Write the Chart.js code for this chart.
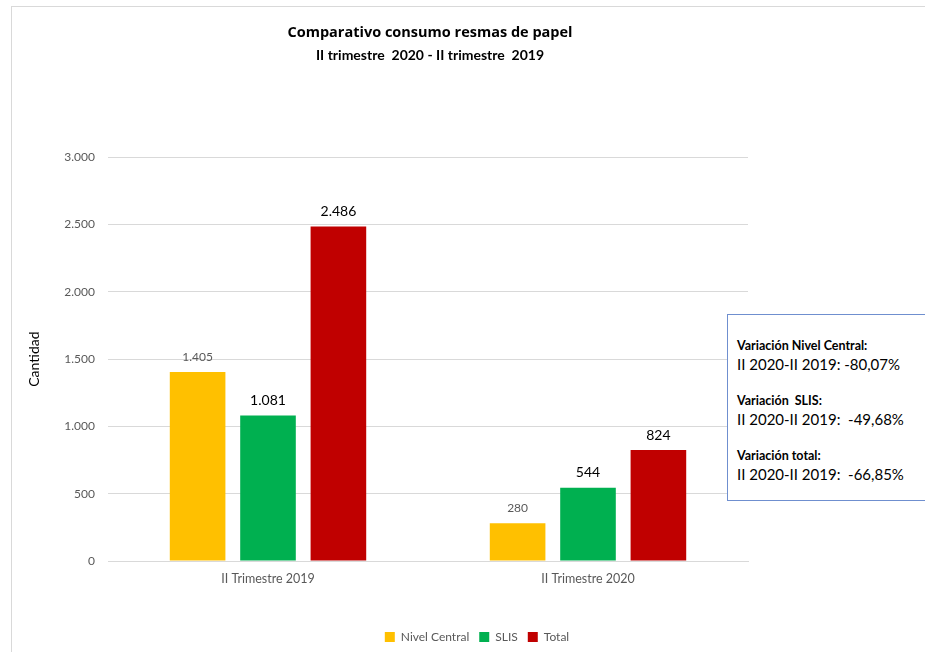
<!DOCTYPE html>
<html>
<head>
<meta charset="utf-8">
<script src="https://cdn.jsdelivr.net/npm/chart.js@4/dist/chart.umd.min.js"></script>
<style>
  html, body { margin: 0; padding: 0; background: #fff; overflow: hidden; }
  #wrap { position: relative; width: 925px; height: 652px; }
  #frame { position: absolute; left: 11px; top: 6px; width: 1000px; height: 1000px; border: 1px solid #d9d9d9; box-sizing: border-box; }
  #chart { position: absolute; left: 0; top: 0; }
  #notes {
    position: absolute; left: 727px; top: 314px; width: 240px; height: 187px;
    border: 1px solid #6f8fcf; background: #fff; box-sizing: border-box;
    font-family: Lato, sans-serif; color: #000; padding: 22px 0 0 9px;
  }
  #notes .h { font-size: 12.5px; font-weight: bold; line-height: 17px; }
  #notes .v { font-size: 15px; line-height: 20px; margin-bottom: 18px; }
</style>
</head>
<body>
<div id="wrap">
  <div id="frame"></div>
  <canvas id="chart" width="925" height="652"></canvas>
  <div id="notes">
    <div class="h">Variación Nivel Central:</div>
    <div class="v">II 2020-II 2019: -80,07%</div>
    <div class="h">Variación &nbsp;SLIS:</div>
    <div class="v">II 2020-II 2019: &nbsp;-49,68%</div>
    <div class="h">Variación total:</div>
    <div class="v">II 2020-II 2019: &nbsp;-66,85%</div>
  </div>
</div>
<script>
const categories = ['II Trimestre 2019', 'II Trimestre 2020'];
const nivelCentral = [1405, 280];
const slis = [1081, 544];
const total = [2486, 824];
const yTicks = [0, 500, 1000, 1500, 2000, 2500, 3000];

const FONT = 'Lato, sans-serif';
const TITLE_FONT = '"Open Sans", sans-serif';

// miles con punto: 1405 -> 1.405
function fmt(v) {
  return String(v).replace(/\B(?=(\d{3})+(?!\d))/g, '.');
}

// etiquetas de valor encima de cada barra
const valueLabels = {
  id: 'valueLabels',
  afterDatasetsDraw(chart) {
    const ctx = chart.ctx;
    ctx.save();
    ctx.textAlign = 'center';
    ctx.textBaseline = 'middle';
    chart.data.datasets.forEach((ds, i) => {
      const meta = chart.getDatasetMeta(i);
      meta.data.forEach((bar, j) => {
        if (i === 0) {
          ctx.font = '12px ' + FONT;
          ctx.fillStyle = '#595959';
        } else {
          ctx.font = '14px ' + FONT;
          ctx.fillStyle = '#000';
        }
        ctx.fillText(fmt(ds.data[j]), bar.x, bar.y - 15);
      });
    });
    ctx.restore();
  }
};

// la leyenda va algo desplazada respecto al título
const legendOffset = {
  id: 'legendOffset',
  afterLayout(chart) {
    const lg = chart.legend;
    lg.left += 47; lg.right += 47;
    lg.top += 3; lg.bottom += 3;
  }
};

const barOpts = { categoryPercentage: 0.66, barPercentage: 0.79 };

new Chart(document.getElementById('chart'), {
  type: 'bar',
  data: {
    labels: categories,
    datasets: [
      { label: 'Nivel Central', data: nivelCentral, backgroundColor: '#FFC000', ...barOpts },
      { label: 'SLIS', data: slis, backgroundColor: '#00B050', ...barOpts },
      { label: 'Total', data: total, backgroundColor: '#C00000', ...barOpts }
    ]
  },
  options: {
    responsive: false,
    animation: false,
    layout: { padding: { left: 0, right: 65, top: 0, bottom: 2 } },
    plugins: {
      title: {
        display: true,
        text: 'Comparativo consumo resmas de papel',
        color: '#000',
        font: { family: TITLE_FONT, size: 14.5, weight: 'bold', lineHeight: 1.2 },
        padding: { top: 24, bottom: 6 }
      },
      subtitle: {
        display: true,
        text: 'II trimestre  2020 - II trimestre  2019',
        color: '#000',
        font: { family: FONT, size: 14, weight: 'bold', lineHeight: 1.2 },
        padding: { top: 0, bottom: 93 }
      },
      legend: {
        position: 'bottom',
        labels: {
          color: '#595959',
          font: { family: FONT, size: 12 },
          boxWidth: 10,
          boxHeight: 10,
          padding: 10
        }
      },
      tooltip: { enabled: false }
    },
    scales: {
      x: {
        grid: { display: false, drawTicks: false },
        border: { display: true, color: '#d9d9d9' },
        ticks: { color: '#595959', font: { family: FONT, size: 12.5 }, padding: 10 },
        afterFit(scale) { scale.height = 57; }
      },
      y: {
        min: 0,
        max: 3000,
        afterBuildTicks(scale) { scale.ticks = yTicks.map(v => ({ value: v })); },
        grid: { color: '#d9d9d9', drawTicks: false },
        border: { display: false },
        ticks: {
          color: '#595959',
          font: { family: FONT, size: 12 },
          padding: 13,
          callback: v => fmt(v)
        },
        title: {
          display: true,
          text: 'Cantidad',
          color: '#000',
          font: { family: FONT, size: 14 },
          padding: { top: 26, bottom: 0 }
        },
        afterFit(scale) { scale.width = 108; }
      },
      // eje vacío a la derecha: reserva el hueco del recuadro de variaciones
      yR: {
        position: 'right',
        display: true,
        grid: { display: false },
        border: { display: false },
        ticks: { display: false },
        afterFit(scale) { scale.width = 112; }
      }
    }
  },
  plugins: [valueLabels, legendOffset]
});
</script>
</body>
</html>
